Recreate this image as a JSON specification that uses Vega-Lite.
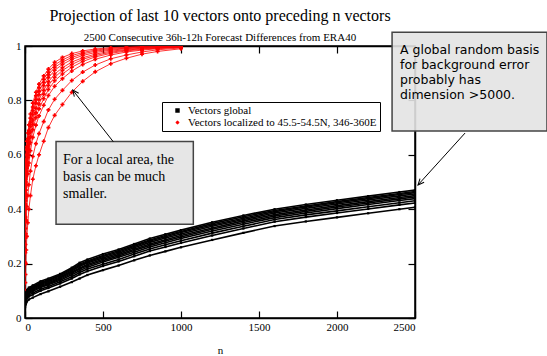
{
  "$schema": "https://vega.github.io/schema/vega-lite/v6.json",
  "width": 390,
  "height": 272,
  "autosize": {"type": "none"},
  "padding": {"left": 25, "top": 46, "right": 132, "bottom": 38},
  "title": {
    "text": "Projection of last 10 vectors onto preceding n vectors",
    "subtitle": "2500 Consecutive 36h-12h Forecast Differences from ERA40",
    "anchor": "middle",
    "font": "Liberation Serif",
    "fontSize": 16,
    "fontWeight": "normal",
    "color": "black",
    "subtitleFont": "Liberation Serif",
    "subtitleFontSize": 11,
    "subtitleColor": "black",
    "offset": -12,
    "subtitlePadding": 8
  },
  "config": {
    "view": {"stroke": "black", "strokeWidth": 1.5},
    "axis": {
      "labelFont": "Liberation Serif",
      "labelFontSize": 11,
      "labelColor": "black",
      "tickColor": "black",
      "domainColor": "black",
      "domainWidth": 1.5,
      "grid": false,
      "tickSize": -7,
      "tickWidth": 1.2,
      "titleFont": "Liberation Serif",
      "titleFontSize": 11,
      "titleFontWeight": "normal",
      "titleColor": "black"
    }
  },
  "datasets": {
    "curves": [
      {"s": "g", "n": 1, "a": 0.085, "b": 0.081, "c": 0.078, "d": 0.075, "e": 0.071, "f": 0.067, "g": 0.063, "h": 0.057, "i": 0.051, "j": 0.04},
      {"s": "g", "n": 5, "a": 0.095, "b": 0.091, "c": 0.088, "d": 0.085, "e": 0.081, "f": 0.077, "g": 0.073, "h": 0.067, "i": 0.061, "j": 0.05},
      {"s": "g", "n": 10, "a": 0.103, "b": 0.099, "c": 0.096, "d": 0.093, "e": 0.089, "f": 0.085, "g": 0.081, "h": 0.075, "i": 0.069, "j": 0.058},
      {"s": "g", "n": 25, "a": 0.112, "b": 0.108, "c": 0.105, "d": 0.102, "e": 0.098, "f": 0.094, "g": 0.09, "h": 0.085, "i": 0.079, "j": 0.068},
      {"s": "g", "n": 50, "a": 0.12, "b": 0.116, "c": 0.113, "d": 0.11, "e": 0.106, "f": 0.102, "g": 0.098, "h": 0.092, "i": 0.086, "j": 0.075},
      {"s": "g", "n": 100, "a": 0.135, "b": 0.131, "c": 0.128, "d": 0.124, "e": 0.12, "f": 0.116, "g": 0.112, "h": 0.106, "i": 0.1, "j": 0.088},
      {"s": "g", "n": 150, "a": 0.145, "b": 0.141, "c": 0.138, "d": 0.134, "e": 0.13, "f": 0.126, "g": 0.122, "h": 0.116, "i": 0.11, "j": 0.098},
      {"s": "g", "n": 225, "a": 0.162, "b": 0.158, "c": 0.155, "d": 0.151, "e": 0.147, "f": 0.143, "g": 0.139, "h": 0.133, "i": 0.127, "j": 0.115},
      {"s": "g", "n": 300, "a": 0.185, "b": 0.181, "c": 0.177, "d": 0.173, "e": 0.168, "f": 0.164, "g": 0.159, "h": 0.152, "i": 0.145, "j": 0.132},
      {"s": "g", "n": 350, "a": 0.203, "b": 0.198, "c": 0.194, "d": 0.19, "e": 0.184, "f": 0.18, "g": 0.174, "h": 0.167, "i": 0.16, "j": 0.145},
      {"s": "g", "n": 400, "a": 0.215, "b": 0.21, "c": 0.206, "d": 0.202, "e": 0.197, "f": 0.192, "g": 0.187, "h": 0.18, "i": 0.172, "j": 0.158},
      {"s": "g", "n": 500, "a": 0.235, "b": 0.23, "c": 0.226, "d": 0.221, "e": 0.216, "f": 0.211, "g": 0.206, "h": 0.198, "i": 0.191, "j": 0.176},
      {"s": "g", "n": 600, "a": 0.252, "b": 0.247, "c": 0.243, "d": 0.238, "e": 0.233, "f": 0.228, "g": 0.223, "h": 0.215, "i": 0.208, "j": 0.193},
      {"s": "g", "n": 700, "a": 0.272, "b": 0.267, "c": 0.263, "d": 0.258, "e": 0.253, "f": 0.248, "g": 0.242, "h": 0.235, "i": 0.227, "j": 0.212},
      {"s": "g", "n": 800, "a": 0.292, "b": 0.287, "c": 0.283, "d": 0.278, "e": 0.272, "f": 0.267, "g": 0.261, "h": 0.254, "i": 0.246, "j": 0.23},
      {"s": "g", "n": 900, "a": 0.308, "b": 0.303, "c": 0.299, "d": 0.294, "e": 0.288, "f": 0.283, "g": 0.277, "h": 0.269, "i": 0.261, "j": 0.245},
      {"s": "g", "n": 1000, "a": 0.323, "b": 0.318, "c": 0.314, "d": 0.309, "e": 0.303, "f": 0.298, "g": 0.292, "h": 0.284, "i": 0.276, "j": 0.26},
      {"s": "g", "n": 1200, "a": 0.352, "b": 0.347, "c": 0.342, "d": 0.337, "e": 0.331, "f": 0.326, "g": 0.32, "h": 0.312, "i": 0.303, "j": 0.287},
      {"s": "g", "n": 1400, "a": 0.377, "b": 0.372, "c": 0.367, "d": 0.362, "e": 0.357, "f": 0.351, "g": 0.345, "h": 0.337, "i": 0.329, "j": 0.313},
      {"s": "g", "n": 1600, "a": 0.4, "b": 0.395, "c": 0.391, "d": 0.386, "e": 0.38, "f": 0.375, "g": 0.369, "h": 0.362, "i": 0.354, "j": 0.338},
      {"s": "g", "n": 1800, "a": 0.417, "b": 0.412, "c": 0.408, "d": 0.403, "e": 0.397, "f": 0.392, "g": 0.386, "h": 0.379, "i": 0.371, "j": 0.355},
      {"s": "g", "n": 2000, "a": 0.433, "b": 0.428, "c": 0.424, "d": 0.419, "e": 0.413, "f": 0.408, "g": 0.402, "h": 0.394, "i": 0.386, "j": 0.37},
      {"s": "g", "n": 2200, "a": 0.448, "b": 0.443, "c": 0.439, "d": 0.434, "e": 0.428, "f": 0.423, "g": 0.417, "h": 0.409, "i": 0.401, "j": 0.385},
      {"s": "g", "n": 2400, "a": 0.463, "b": 0.458, "c": 0.454, "d": 0.449, "e": 0.443, "f": 0.438, "g": 0.432, "h": 0.424, "i": 0.416, "j": 0.4},
      {"s": "g", "n": 2500, "a": 0.47, "b": 0.465, "c": 0.461, "d": 0.456, "e": 0.45, "f": 0.445, "g": 0.439, "h": 0.431, "i": 0.423, "j": 0.407},
      {"s": "l", "n": 1, "a": 0.45, "b": 0.433, "c": 0.415, "d": 0.398, "e": 0.373, "f": 0.352, "g": 0.328, "h": 0.293, "i": 0.205, "j": 0.1},
      {"s": "l", "n": 2, "a": 0.5, "b": 0.48, "c": 0.46, "d": 0.44, "e": 0.42, "f": 0.4, "g": 0.37, "h": 0.33, "i": 0.24, "j": 0.13},
      {"s": "l", "n": 3, "a": 0.53, "b": 0.51, "c": 0.49, "d": 0.47, "e": 0.45, "f": 0.43, "g": 0.4, "h": 0.36, "i": 0.27, "j": 0.16},
      {"s": "l", "n": 5, "a": 0.58, "b": 0.56, "c": 0.54, "d": 0.52, "e": 0.5, "f": 0.47, "g": 0.45, "h": 0.41, "i": 0.31, "j": 0.2},
      {"s": "l", "n": 8, "a": 0.62, "b": 0.6, "c": 0.58, "d": 0.56, "e": 0.54, "f": 0.52, "g": 0.49, "h": 0.45, "i": 0.36, "j": 0.25},
      {"s": "l", "n": 12, "a": 0.65, "b": 0.63, "c": 0.62, "d": 0.6, "e": 0.57, "f": 0.55, "g": 0.53, "h": 0.49, "i": 0.41, "j": 0.3},
      {"s": "l", "n": 18, "a": 0.68, "b": 0.66, "c": 0.65, "d": 0.63, "e": 0.61, "f": 0.59, "g": 0.56, "h": 0.53, "i": 0.45, "j": 0.35},
      {"s": "l", "n": 25, "a": 0.71, "b": 0.69, "c": 0.68, "d": 0.66, "e": 0.64, "f": 0.62, "g": 0.6, "h": 0.57, "i": 0.49, "j": 0.4},
      {"s": "l", "n": 35, "a": 0.75, "b": 0.735, "c": 0.72, "d": 0.705, "e": 0.684, "f": 0.666, "g": 0.645, "h": 0.615, "i": 0.54, "j": 0.45},
      {"s": "l", "n": 50, "a": 0.79, "b": 0.776, "c": 0.762, "d": 0.748, "e": 0.728, "f": 0.712, "g": 0.692, "h": 0.664, "i": 0.594, "j": 0.51},
      {"s": "l", "n": 70, "a": 0.83, "b": 0.817, "c": 0.803, "d": 0.79, "e": 0.771, "f": 0.754, "g": 0.736, "h": 0.709, "i": 0.641, "j": 0.56},
      {"s": "l", "n": 90, "a": 0.86, "b": 0.847, "c": 0.834, "d": 0.821, "e": 0.803, "f": 0.787, "g": 0.769, "h": 0.743, "i": 0.678, "j": 0.6},
      {"s": "l", "n": 120, "a": 0.89, "b": 0.878, "c": 0.866, "d": 0.854, "e": 0.837, "f": 0.823, "g": 0.806, "h": 0.782, "i": 0.722, "j": 0.65},
      {"s": "l", "n": 150, "a": 0.915, "b": 0.904, "c": 0.894, "d": 0.883, "e": 0.868, "f": 0.855, "g": 0.84, "h": 0.818, "i": 0.765, "j": 0.7},
      {"s": "l", "n": 190, "a": 0.94, "b": 0.93, "c": 0.921, "d": 0.911, "e": 0.897, "f": 0.885, "g": 0.872, "h": 0.852, "i": 0.804, "j": 0.745},
      {"s": "l", "n": 240, "a": 0.958, "b": 0.949, "c": 0.941, "d": 0.932, "e": 0.92, "f": 0.91, "g": 0.897, "h": 0.88, "i": 0.837, "j": 0.785},
      {"s": "l", "n": 300, "a": 0.972, "b": 0.965, "c": 0.958, "d": 0.951, "e": 0.941, "f": 0.932, "g": 0.922, "h": 0.908, "i": 0.873, "j": 0.83},
      {"s": "l", "n": 370, "a": 0.982, "b": 0.976, "c": 0.971, "d": 0.965, "e": 0.957, "f": 0.951, "g": 0.943, "h": 0.932, "i": 0.904, "j": 0.87},
      {"s": "l", "n": 450, "a": 0.989, "b": 0.985, "c": 0.981, "d": 0.976, "e": 0.97, "f": 0.965, "g": 0.96, "h": 0.951, "i": 0.93, "j": 0.905},
      {"s": "l", "n": 550, "a": 0.994, "b": 0.991, "c": 0.988, "d": 0.985, "e": 0.981, "f": 0.977, "g": 0.973, "h": 0.967, "i": 0.953, "j": 0.935},
      {"s": "l", "n": 650, "a": 0.996, "b": 0.994, "c": 0.992, "d": 0.99, "e": 0.987, "f": 0.985, "g": 0.982, "h": 0.978, "i": 0.967, "j": 0.955},
      {"s": "l", "n": 750, "a": 0.998, "b": 0.997, "c": 0.995, "d": 0.994, "e": 0.992, "f": 0.99, "g": 0.988, "h": 0.985, "i": 0.978, "j": 0.97},
      {"s": "l", "n": 850, "a": 0.999, "b": 0.998, "c": 0.997, "d": 0.996, "e": 0.994, "f": 0.993, "g": 0.992, "h": 0.99, "i": 0.986, "j": 0.98},
      {"s": "l", "n": 1000, "a": 1.0, "b": 0.999, "c": 0.999, "d": 0.998, "e": 0.998, "f": 0.997, "g": 0.996, "h": 0.995, "i": 0.993, "j": 0.99}
    ],
    "boxes": [
      {"x": 199, "x2": 1079, "y": 0.649, "y2": 0.345},
      {"x": 2353, "x2": 3346, "y": 1.051, "y2": 0.6875}
    ],
    "arrows": [
      {"x": 566, "y": 0.648, "x2": 306, "y2": 0.838},
      {"x": 2821, "y": 0.68, "x2": 2519, "y2": 0.489}
    ]
  },
  "layer": [
    {
      "data": {"name": "curves"},
      "transform": [{"filter": "datum.s == 'g'"}, {"fold": ["a", "b", "c", "d", "e", "f", "g", "h", "i", "j"], "as": ["k", "v"]}],
      "mark": {"type": "point", "filled": true, "opacity": 1, "clip": true, "size": 5},
      "encoding": {
        "x": {"field": "n", "type": "quantitative", "scale": {"domain": [0, 2500], "nice": false, "zero": false},
          "axis": {"values": [0, 500, 1000, 1500, 2000, 2500], "format": "d", "title": "n", "titlePadding": 12, "labelPadding": 10}},
        "y": {"field": "v", "type": "quantitative", "scale": {"domain": [0, 1], "nice": false},
          "axis": {"values": [0, 0.2, 0.4, 0.6, 0.8, 1], "format": ".1~f", "title": null, "labelPadding": 11}},
        "color": {"field": "s", "type": "nominal", "scale": {"domain": ["g", "l"], "range": ["black", "#ff0000"]},
          "legend": {"title": null, "orient": "none", "legendX": 137, "legendY": 56, "strokeColor": "black", "fillColor": "white",
            "padding": 3, "labelFont": "Liberation Serif", "labelFontSize": 11, "labelColor": "black",
            "labelExpr": "datum.value == 'g' ? 'Vectors global' : 'Vectors localized to 45.5-54.5N, 346-360E'",
            "symbolSize": 8, "symbolOffset": 7, "labelOffset": 5, "rowPadding": 0, "labelLimit": 400, "symbolStrokeWidth": 0}},
        "shape": {"field": "s", "type": "nominal", "scale": {"domain": ["g", "l"], "range": ["square", "cross"]},
          "legend": {"title": null, "orient": "none", "legendX": 137, "legendY": 56, "strokeColor": "black", "fillColor": "white",
            "padding": 3, "labelFont": "Liberation Serif", "labelFontSize": 11, "labelColor": "black",
            "labelExpr": "datum.value == 'g' ? 'Vectors global' : 'Vectors localized to 45.5-54.5N, 346-360E'",
            "symbolSize": 8, "symbolOffset": 7, "labelOffset": 5, "rowPadding": 0, "labelLimit": 400, "symbolStrokeWidth": 0}}
      }
    },
    {
      "data": {"name": "curves"},
      "transform": [{"filter": "datum.s == 'l'"}, {"fold": ["a", "b", "c", "d", "e", "f", "g", "h", "i", "j"], "as": ["k", "v"]}],
      "mark": {"type": "point", "filled": true, "opacity": 1, "clip": true, "size": 16},
      "encoding": {
        "x": {"field": "n", "type": "quantitative", "scale": {"domain": [0, 2500], "nice": false, "zero": false}, "axis": null},
        "y": {"field": "v", "type": "quantitative", "scale": {"domain": [0, 1], "nice": false}, "axis": null},
        "color": {"field": "s", "type": "nominal", "scale": {"domain": ["g", "l"], "range": ["black", "#ff0000"]}},
        "shape": {"field": "s", "type": "nominal", "scale": {"domain": ["g", "l"], "range": ["square", "cross"]}}
      }
    },
    {
      "data": {"name": "curves"},
      "transform": [{"fold": ["a", "b", "c", "d", "e", "f", "g", "h", "i", "j"], "as": ["k", "v"]}],
      "mark": {"type": "line", "clip": true},
      "encoding": {
        "x": {"field": "n", "type": "quantitative", "scale": {"domain": [0, 2500], "nice": false, "zero": false}, "axis": null},
        "y": {"field": "v", "type": "quantitative", "scale": {"domain": [0, 1], "nice": false}, "axis": null},
        "color": {"field": "s", "type": "nominal", "scale": {"domain": ["g", "l"], "range": ["black", "#ff0000"]}},
        "strokeWidth": {"field": "s", "type": "ordinal", "scale": {"domain": ["g", "l"], "range": [1.6, 0.8]}, "legend": null},
        "detail": {"field": "k"}
      }
    },
    {
      "data": {"name": "boxes"},
      "mark": {"type": "rect", "fill": "#e3e3e3", "fillOpacity": 0.9, "stroke": "#444444", "strokeWidth": 1.5},
      "encoding": {
        "x": {"field": "x", "type": "quantitative", "scale": {"domain": [0, 2500], "nice": false, "zero": false},
          "axis": {"orient": "top", "values": [0, 500, 1000, 1500, 2000, 2500], "labels": false, "title": null}},
        "x2": {"field": "x2"},
        "y": {"field": "y", "type": "quantitative", "scale": {"domain": [0, 1], "nice": false},
          "axis": {"orient": "right", "values": [0, 0.2, 0.4, 0.6, 0.8, 1], "labels": false, "title": null}},
        "y2": {"field": "y2"}
      }
    },
    {
      "data": {"values": [{"x": 244, "y": 0.565, "t": "For a local area, the\nbasis can be much\nsmaller."}]},
      "mark": {"type": "text", "align": "left", "baseline": "alphabetic", "lineBreak": "\n", "font": "Liberation Serif", "fontSize": 14, "lineHeight": 17, "color": "black"},
      "encoding": {
        "x": {"field": "x", "type": "quantitative", "axis": null},
        "y": {"field": "y", "type": "quantitative", "axis": null},
        "text": {"field": "t"}
      }
    },
    {
      "data": {"values": [{"x": 2404, "y": 0.971, "t": "A global random basis\nfor background error\nprobably has\ndimension >5000."}]},
      "mark": {"type": "text", "align": "left", "baseline": "alphabetic", "lineBreak": "\n", "font": "DejaVu Sans", "fontSize": 12.5, "lineHeight": 15, "color": "black"},
      "encoding": {
        "x": {"field": "x", "type": "quantitative", "axis": null},
        "y": {"field": "y", "type": "quantitative", "axis": null},
        "text": {"field": "t"}
      }
    },
    {
      "data": {"name": "arrows"},
      "mark": {"type": "rule", "color": "black", "strokeWidth": 1},
      "encoding": {
        "x": {"field": "x", "type": "quantitative", "axis": null},
        "y": {"field": "y", "type": "quantitative", "axis": null},
        "x2": {"field": "x2"},
        "y2": {"field": "y2"}
      }
    },
    {
      "data": {"values": [{"x": 306, "y": 0.838}]},
      "mark": {"type": "point", "shape": "M-0.45,1L0,0L0.45,1", "size": 150, "filled": false, "stroke": "black", "strokeWidth": 1, "angle": 322, "opacity": 1},
      "encoding": {
        "x": {"field": "x", "type": "quantitative", "axis": null},
        "y": {"field": "y", "type": "quantitative", "axis": null}
      }
    },
    {
      "data": {"values": [{"x": 2519, "y": 0.489}]},
      "mark": {"type": "point", "shape": "M-0.45,1L0,0L0.45,1", "size": 150, "filled": false, "stroke": "black", "strokeWidth": 1, "angle": 222, "opacity": 1},
      "encoding": {
        "x": {"field": "x", "type": "quantitative", "axis": null},
        "y": {"field": "y", "type": "quantitative", "axis": null}
      }
    }
  ],
  "resolve": {"axis": {"x": "independent", "y": "independent"}}
}
